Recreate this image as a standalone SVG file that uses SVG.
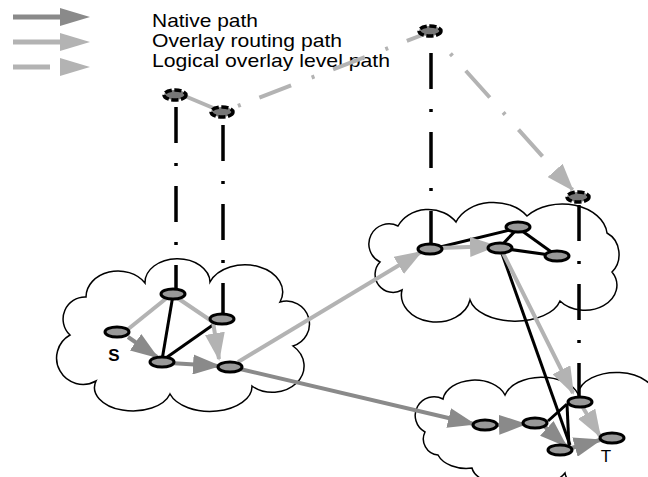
<svg xmlns="http://www.w3.org/2000/svg" width="648" height="477" viewBox="0 0 648 477">
<style>
.cloud{fill:#fff;stroke:#000;stroke-width:1.5}
.nat{fill:none;stroke:#8a8a8a;stroke-width:4}
.ovl{fill:none;stroke:#b3b3b3;stroke-width:4}
.log{fill:none;stroke:#b3b3b3;stroke-width:4}
.phy{fill:none;stroke:#000;stroke-width:3}
.vert{fill:none;stroke:#000;stroke-width:3.5;stroke-dasharray:36 20 3 20}
.node{fill:#999;stroke:#000;stroke-width:3}
.onode{fill:#777;stroke:#000;stroke-width:3.5;stroke-dasharray:7 2.5}
.lbl{font-family:"Liberation Sans",Arial,sans-serif;fill:#000}
</style>
<defs>
<marker id="natArrow" markerUnits="userSpaceOnUse" markerWidth="28" markerHeight="20" refX="26" refY="10" orient="auto">
<path d="M0,0 L28,10 L0,20 Z" fill="#8a8a8a"/>
</marker>
<marker id="ovlArrow" markerUnits="userSpaceOnUse" markerWidth="28" markerHeight="20" refX="26" refY="10" orient="auto">
<path d="M0,0 L28,10 L0,20 Z" fill="#b3b3b3"/>
</marker>
</defs>

<g id="legend">
<line x1="13" y1="17" x2="62" y2="17" stroke="#8a8a8a" stroke-width="5"/>
<polygon points="60,8 90,17 60,26" fill="#8a8a8a"/>
<line x1="13" y1="42" x2="62" y2="42" stroke="#b3b3b3" stroke-width="5"/>
<polygon points="60,33 90,42 60,51" fill="#b3b3b3"/>
<line x1="13" y1="67" x2="50" y2="67" stroke="#b3b3b3" stroke-width="5"/>
<polygon points="60,58 90,67 60,76" fill="#b3b3b3"/>
<text class="lbl" x="152" y="27" font-size="19" textLength="106" lengthAdjust="spacingAndGlyphs">Native path</text>
<text class="lbl" x="152" y="47" font-size="19" textLength="190" lengthAdjust="spacingAndGlyphs">Overlay routing path</text>
<text class="lbl" x="152" y="67" font-size="19" textLength="238" lengthAdjust="spacingAndGlyphs">Logical overlay level path</text>
</g>

<g id="clouds">
<path id="cloud-left" class="cloud" d="M70,335 A22,22 0 0 1 86,297 A32,26 0 0 1 145,283 A30,22 0 0 1 210,282 A36,26 0 0 1 280,302 A22,22 0 0 1 293,346 A30,25 0 0 1 252,386 A42,25 0 0 1 170,394 A36,22 0 0 1 96,381 A22,22 0 0 1 70,335 Z"/>
<path id="cloud-mid" class="cloud" d="M380,262 A20,20 0 0 1 398,226 A34,30 0 0 1 456,222 A40,30 0 0 1 527,216 A45,32 0 0 1 607,233 A22,24 0 0 1 612,272 A32,25 0 0 1 560,301 A46,26 0 0 1 470,300 A32,25 0 0 1 402,290 A18,18 0 0 1 380,262 Z"/>
<path id="cloud-bottom" class="cloud" d="M425,432 A18,18 0 0 1 443,399 A32,22 0 0 1 505,395 A38,24 0 0 1 578,394 A36,22 0 0 1 655,398 L655,470 A45,22 0 0 1 565,473 A48,22 0 0 1 472,468 A30,20 0 0 1 438,455 A16,16 0 0 1 425,432 Z"/>
</g>

<g id="connectors">
<path class="vert" d="M176,107 L176,295"/>
<path class="vert" d="M223,125 L223,318"/>
<path class="vert" d="M431,53 L431,249"/>
<path class="vert" d="M579,205 L579,402"/>

<path class="phy" d="M173,295 L162,360"/>
<path class="phy" d="M220,320 L163,360"/>
<path class="phy" d="M432,249 L518,228"/>
<path class="phy" d="M518,228 L500,247"/>
<path class="phy" d="M500,248 L557,256"/>
<path class="phy" d="M518,228 L557,256"/>
<path class="phy" d="M500,248 L570,445"/>
<path class="phy" d="M548,421 L567,404"/>
<path class="phy" d="M567,404 L569,447"/>

<path class="ovl" d="M180,94 L218,110"/>
<path class="ovl" d="M127,330 L168,297"/>
<path class="ovl" d="M176,297 L213,322 L219,359" marker-end="url(#ovlArrow)"/>
<path class="ovl" d="M238,362 L421,252" marker-end="url(#ovlArrow)"/>
<path class="ovl" d="M440,248 L496,246" marker-end="url(#ovlArrow)"/>
<path class="ovl" d="M503,253 L573,393" marker-end="url(#ovlArrow)"/>
<path class="ovl" d="M582,406 L600,436" marker-end="url(#ovlArrow)"/>

<path class="nat" d="M128,337 L157,357" marker-end="url(#natArrow)"/>
<path class="nat" d="M170,363 L219,366" marker-end="url(#natArrow)"/>
<path class="nat" d="M240,369 L474,424" marker-end="url(#natArrow)"/>
<path class="nat" d="M495,425 L525,424" marker-end="url(#natArrow)"/>
<path class="nat" d="M543,425 L566,446" marker-end="url(#natArrow)"/>
<path class="nat" d="M568,449 L600,440" marker-end="url(#natArrow)"/>

<path class="log" d="M237.9,105.9 L430,32" stroke-dasharray="3 20 34 22"/>
<path class="log" d="M450.4,53.6 L572.5,189.8" stroke-dasharray="3 20 36 20" marker-end="url(#ovlArrow)"/>
</g>

<g id="node-A"><ellipse class="onode" cx="175" cy="95" rx="11" ry="5"/></g>
<g id="node-B"><ellipse class="onode" cx="222" cy="112" rx="11" ry="5"/></g>
<g id="node-C"><ellipse class="onode" cx="430" cy="31" rx="11" ry="5"/></g>
<g id="node-D"><ellipse class="onode" cx="578" cy="197" rx="11" ry="5"/></g>

<g id="node-L1"><ellipse class="node" cx="173" cy="294" rx="12" ry="5"/></g>
<g id="node-L2"><ellipse class="node" cx="222" cy="319" rx="12" ry="5"/></g>
<g id="node-S"><ellipse class="node" cx="117" cy="332" rx="12" ry="5"/><text class="lbl" x="114" y="361" font-size="17" font-weight="bold" text-anchor="middle">S</text></g>
<g id="node-L4"><ellipse class="node" cx="162" cy="362" rx="12" ry="5"/></g>
<g id="node-L5"><ellipse class="node" cx="230" cy="367" rx="12" ry="5"/></g>

<g id="node-M1"><ellipse class="node" cx="430" cy="249" rx="12" ry="5"/></g>
<g id="node-M2"><ellipse class="node" cx="518" cy="227" rx="12" ry="5"/></g>
<g id="node-M3"><ellipse class="node" cx="500" cy="248" rx="12" ry="5"/></g>
<g id="node-M4"><ellipse class="node" cx="557" cy="256" rx="12" ry="5"/></g>

<g id="node-B1"><ellipse class="node" cx="485" cy="425" rx="12" ry="5"/></g>
<g id="node-B2"><ellipse class="node" cx="535" cy="423" rx="12" ry="5"/></g>
<g id="node-B3"><ellipse class="node" cx="580" cy="402" rx="12" ry="5"/></g>
<g id="node-B4"><ellipse class="node" cx="560" cy="450" rx="12" ry="5"/></g>
<g id="node-T"><ellipse class="node" cx="612" cy="438" rx="12" ry="5"/><text class="lbl" x="606" y="462" font-size="17" text-anchor="middle">T</text></g>
</svg>
